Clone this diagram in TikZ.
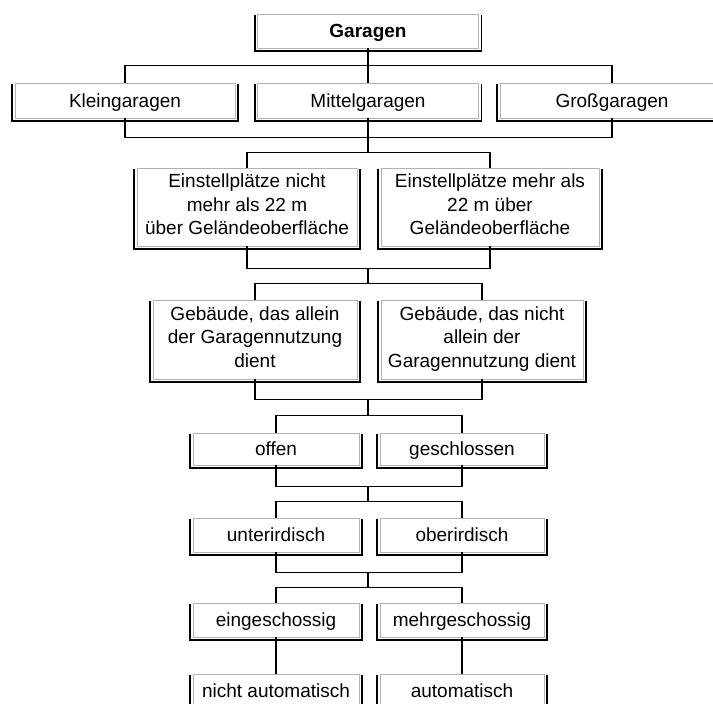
\documentclass[tikz,border=0pt]{standalone}
\usepackage{fontspec}
\setmainfont{Liberation Sans}
\newcommand\boxstrut{\rule[-5pt]{0pt}{23pt}}
\begin{document}
\begin{tikzpicture}[x=1pt, y=-1pt,
        gbox/.style={rectangle, draw=gray!60, line width=0.8pt, fill=white, inner sep=0pt, align=center, font=\fontsize{19}{23.5}\selectfont,
            execute at begin node=\boxstrut, execute at end node=\boxstrut},
        rim/.style={line width=1.8pt, black},
        bar/.style={line width=1.3pt, black}]
        \def\rimgap{2.5pt}

        \useasboundingbox (0,0) rectangle (713,704);
        \clip (0,0) rectangle (713,704);

        % Stufe 1 und 2
        \node[gbox, minimum width=221, minimum height=34] (garagen) at (368, 31) {\textbf{Garagen}};
        \node[gbox, minimum width=220, minimum height=35] (klein) at (125, 100.5) {Kleingaragen};
        \node[gbox, minimum width=221, minimum height=35] (mittel) at (368, 100.5) {Mittelgaragen};
        \node[gbox, minimum width=224, minimum height=35] (gross) at (612, 100.5) {Großgaragen};

        % Einstellplaetze
        \node[gbox, minimum width=220, minimum height=78] (hoch1) at (247, 207) {Einstellplätze nicht\\mehr als 22 m\\über Geländeoberfläche};
        \node[gbox, minimum width=218, minimum height=78] (hoch2) at (490, 207) {Einstellplätze mehr als\\22 m über\\Geländeoberfläche};

        % Gebaeude
        \node[gbox, minimum width=204, minimum height=79] (geb1) at (255, 339.5) {Gebäude, das allein\\der Garagennutzung\\dient};
        \node[gbox, minimum width=202, minimum height=79] (geb2) at (482, 339.5) {Gebäude, das nicht\\allein der\\Garagennutzung dient};

        % untere Stufen
        \node[gbox, minimum width=166, minimum height=32] (offen) at (276, 449) {offen};
        \node[gbox, minimum width=164, minimum height=32] (geschl) at (462, 449) {geschlossen};
        \node[gbox, minimum width=166, minimum height=34] (unter) at (276, 535) {unterirdisch};
        \node[gbox, minimum width=164, minimum height=34] (ober) at (462, 535) {oberirdisch};
        \node[gbox, minimum width=166, minimum height=34] (einge) at (276, 620) {eingeschossig};
        \node[gbox, minimum width=164, minimum height=34] (mehr) at (462, 620) {mehrgeschossig};
        \node[gbox, minimum width=166, minimum height=34] (nauto) at (276, 691) {nicht automatisch};
        \node[gbox, minimum width=164, minimum height=34] (auto) at (462, 691) {automatisch};

        % schwarzer Rand links, unten, rechts
        \foreach \n in {garagen, klein, mittel, gross, hoch1, hoch2, geb1, geb2, offen, geschl, unter, ober, einge, mehr, nauto, auto}
            \draw[rim] ([xshift=-\rimgap, yshift=-1pt]\n.north west) |- ([xshift=\rimgap, yshift=-\rimgap]\n.south east) -- ([xshift=\rimgap, yshift=-1pt]\n.north east);

        % Verbindungen
        \draw[bar] (garagen.south) -- ++(0, 17) coordinate (j1);
        \draw[bar] (klein.north) |- (j1) -| (gross.north);
        \draw[bar] (j1) -- (mittel.north);

        \draw[bar] (klein.south) -- ++(0, 19) -| (gross.south);
        \draw[bar] (mittel.south) -- ++(0, 34) coordinate (j2);
        \draw[bar] (hoch1.north) |- (j2) -| (hoch2.north);

        \draw[bar] (hoch1.south) -- ++(0, 22) coordinate (b3) -| (hoch2.south);
        \draw[bar] (b3 -| garagen.south) -- ++(0, 15) coordinate (j3);
        \draw[bar] (geb1.north) |- (j3) -| (geb2.north);

        \draw[bar] (geb1.south) -- ++(0, 20) coordinate (b4) -| (geb2.south);
        \draw[bar] (b4 -| garagen.south) -- ++(0, 16) coordinate (j4);
        \draw[bar] (offen.north) |- (j4) -| (geschl.north);

        \draw[bar] (offen.south) -- ++(0, 21) coordinate (b5) -| (geschl.south);
        \draw[bar] (b5 -| garagen.south) -- ++(0, 15) coordinate (j5);
        \draw[bar] (unter.north) |- (j5) -| (ober.north);

        \draw[bar] (unter.south) -- ++(0, 20) coordinate (b6) -| (ober.south);
        \draw[bar] (b6 -| garagen.south) -- ++(0, 15) coordinate (j6);
        \draw[bar] (einge.north) |- (j6) -| (mehr.north);

        \draw[bar] (einge.south) -- (nauto.north);
        \draw[bar] (mehr.south) -- (auto.north);
    \end{tikzpicture}
\end{document}
